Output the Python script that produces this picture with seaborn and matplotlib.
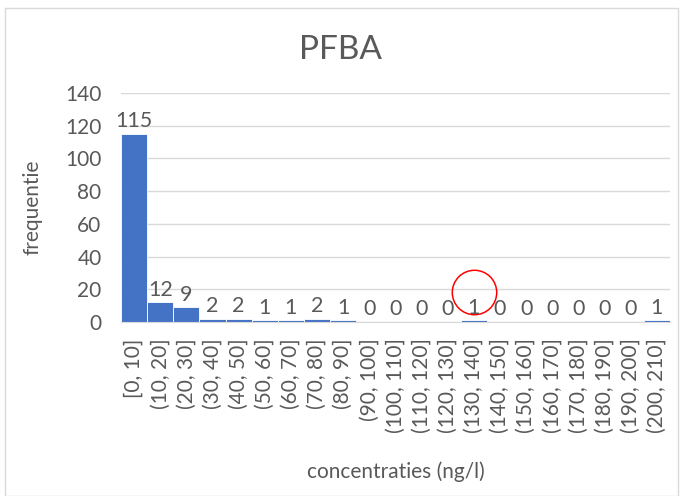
import pandas as pd
import seaborn as sns
import matplotlib.pyplot as plt
from matplotlib.patches import Rectangle

# histogram bins and counts
bins = ['[0, 10]', '(10, 20]', '(20, 30]', '(30, 40]', '(40, 50]', '(50, 60]',
        '(60, 70]', '(70, 80]', '(80, 90]', '(90, 100]', '(100, 110]',
        '(110, 120]', '(120, 130]', '(130, 140]', '(140, 150]', '(150, 160]',
        '(160, 170]', '(170, 180]', '(180, 190]', '(190, 200]', '(200, 210]']
counts = [115, 12, 9, 2, 2, 1, 1, 2, 1, 0, 0, 0, 0, 1, 0, 0, 0, 0, 0, 0, 1]
highlight_bin = '(130, 140]'

df = pd.DataFrame({'bin': bins, 'count': counts})

sns.set_style('white')
plt.rcParams['font.family'] = ['Lato', 'DejaVu Sans']
grey = '#595959'

fig = plt.figure(figsize=(6.8, 4.96), dpi=100)
ax = fig.add_axes([0.178, 0.351, 0.807, 0.4615])

sns.barplot(data=df, x='bin', y='count', order=bins, color='#4472C4',
            width=1, edgecolor='white', linewidth=0.6, saturation=1, ax=ax)

# data labels
for i, v in enumerate(counts):
    ax.text(i, v + 1.5, str(v), ha='center', va='bottom', fontsize=15.5,
            color=grey)

# red circle around the highlighted bin
hi = bins.index(highlight_bin)
ax.plot(hi, 18, marker='o', markersize=32, markerfacecolor='none',
        markeredgecolor='#FF0000', markeredgewidth=1.1, clip_on=False)

ax.set_ylim(0, 140)
ax.set_xlim(-0.5, len(bins) - 0.5)
ax.set_yticks(range(0, 141, 20))
ax.yaxis.grid(True, color='#D9D9D9', linewidth=1)
ax.set_axisbelow(True)
for s in ['top', 'right', 'left']:
    ax.spines[s].set_visible(False)
ax.spines['bottom'].set_color('#D9D9D9')
ax.tick_params(axis='y', labelsize=15, labelcolor=grey, length=0, pad=14)
ax.tick_params(axis='x', labelsize=15, labelcolor=grey, length=0,
               rotation=90, pad=12)

ax.set_xlabel('concentraties (ng/l)', fontsize=15, color=grey, labelpad=20)
ax.set_ylabel('frequentie', fontsize=15, color=grey, labelpad=16)
fig.suptitle('PFBA', fontsize=24, color=grey, x=0.5, y=0.93)

# chart border
fig.patches.append(Rectangle((0.007, 0.0), 0.99, 0.983, transform=fig.transFigure,
                             fill=False, edgecolor='#D9D9D9', linewidth=1))

fig.savefig('out.png', dpi=100)
